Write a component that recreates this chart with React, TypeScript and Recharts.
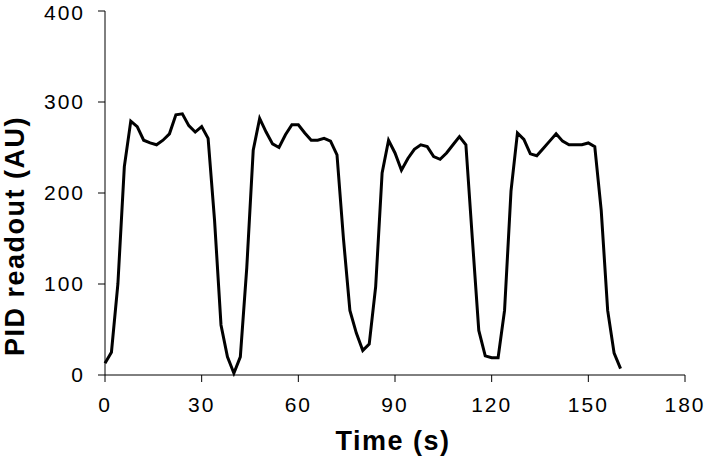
import React from 'react';
import { Line, LineChart, XAxis, YAxis } from 'recharts';

// Sample times (s), one reading every 2 s
const timeSeconds = [
  0, 2, 4, 6, 8, 10, 12, 14, 16, 18, 20, 22, 24, 26, 28, 30, 32, 34, 36, 38,
  40, 42, 44, 46, 48, 50, 52, 54, 56, 58, 60, 62, 64, 66, 68, 70, 72, 74, 76, 78,
  80, 82, 84, 86, 88, 90, 92, 94, 96, 98, 100, 102, 104, 106, 108, 110, 112, 114, 116, 118,
  120, 122, 124, 126, 128, 130, 132, 134, 136, 138, 140, 142, 144, 146, 148, 150, 152, 154, 156, 158,
  160,
];

// PID readout (AU)
const pidReadout = [
  13, 25, 100, 229, 279, 273, 258, 255, 253, 258, 265, 286, 287, 274, 267, 273, 260, 170, 55, 20,
  2, 20, 118, 247, 282, 267, 254, 250, 264, 275, 275, 266, 258, 258, 260, 257, 242, 150, 71, 46,
  27, 34, 97, 222, 258, 244, 225, 238, 248, 253, 251, 240, 237, 244, 253, 262, 253, 150, 49, 21,
  19, 19, 71, 202, 266, 259, 243, 241, 249, 257, 265, 257, 253, 253, 253, 255, 251, 181, 71, 24,
  7,
];

const xTicks = [0, 30, 60, 90, 120, 150, 180];
const yTicks = [0, 100, 200, 300, 400];

const chartData = timeSeconds.map((t, i) => ({ t, pid: pidReadout[i] }));

const FONT = '"Liberation Sans", Arial, Helvetica, sans-serif';
const tickStyle = { fill: '#000', fontSize: 21, fontFamily: FONT, letterSpacing: 2 };

// axis titles, placed relative to the axis viewBox recharts hands in
const XTitle = (props: any) => {
  const { x, y, width } = props.viewBox;
  return (
    <text x={x + width / 2 - 2} y={y + 66} textAnchor="middle" dominantBaseline="central"
      fill="#000" fontSize={27} fontWeight={700} fontFamily={FONT} letterSpacing={1.5}>
      Time (s)
    </text>
  );
};

const YTitle = (props: any) => {
  const { x, y, height } = props.viewBox;
  const cx = x + 15;
  const cy = y + height / 2 + 43;
  return (
    <text x={cx} y={cy} transform={`rotate(-90, ${cx}, ${cy})`} textAnchor="middle" dominantBaseline="central"
      fill="#000" fontSize={27} fontWeight={700} fontFamily={FONT} letterSpacing={1.5}>
      PID readout (AU)
    </text>
  );
};

export default function App() {
  return (
    <div style={{ position: 'absolute', left: 0, top: 0, width: 708, height: 460, background: '#fff' }}>
      <LineChart width={708} height={460} data={chartData} margin={{ top: 11, right: 23, left: 0, bottom: 0 }}>
        <XAxis
          dataKey="t"
          type="number"
          domain={[0, 180]}
          ticks={xTicks}
          height={85}
          tick={tickStyle}
          tickSize={7}
          tickMargin={15}
          stroke="#000"
          label={{ content: XTitle }}
        />
        <YAxis
          type="number"
          domain={[0, 400]}
          ticks={yTicks}
          width={105}
          tick={tickStyle}
          tickSize={7}
          tickMargin={13}
          stroke="#000"
          label={{ content: YTitle }}
        />
        <Line
          type="linear"
          dataKey="pid"
          stroke="#000"
          strokeWidth={3}
          dot={false}
          isAnimationActive={false}
        />
      </LineChart>
    </div>
  );
}
